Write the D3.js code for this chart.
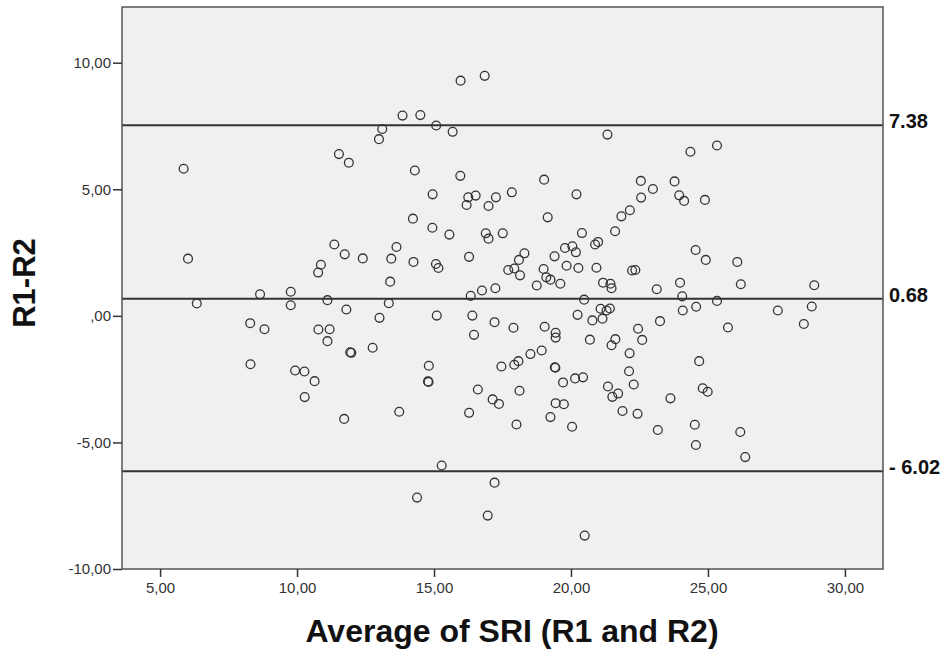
<!DOCTYPE html>
<html>
<head>
<meta charset="utf-8">
<script src="https://cdn.jsdelivr.net/npm/d3@7"></script>
<style>
  body { margin: 0; background: #fff; }
  svg text { font-family: Arial, "Liberation Sans", sans-serif; }
</style>
</head>
<body>
<svg id="chart" width="947" height="651"></svg>
<script>
// average of the two ratings (x) and their difference (y)
const avgValues = [
  5.86, 11.53, 11.89, 15.97, 16.85, 13.85, 14.50, 15.08, 15.68, 13.11,
  12.99, 14.30, 15.96, 19.02, 14.95, 16.25, 16.52, 16.19, 16.99, 17.26,
  17.84, 20.20, 14.23, 19.15, 21.33, 24.36, 25.33, 22.55, 22.99, 22.56,
  23.78, 23.95, 24.13, 24.89, 22.15, 21.84, 6.02, 6.34, 11.36, 11.74,
  12.40, 10.87, 10.77, 8.65, 9.77, 9.77, 11.11, 11.80, 8.29, 8.81,
  10.78, 11.19, 11.11, 11.94, 11.98, 8.30, 9.93, 10.27, 10.64, 10.28,
  11.72, 14.94, 15.56, 16.89, 16.99, 17.51, 20.40, 13.63, 13.44, 14.25,
  15.07, 15.16, 16.28, 18.30, 18.10, 17.71, 17.93, 18.14, 19.40, 19.78,
  20.05, 20.18, 20.88, 20.99, 19.84, 20.27, 20.93, 19.00, 19.10, 19.25,
  19.61, 18.75, 13.40, 17.24, 16.75, 16.34, 21.17, 20.48, 13.35, 13.01,
  15.10, 16.40, 17.21, 17.90, 16.46, 19.04, 19.44, 19.44, 20.24, 20.78,
  20.69, 12.76, 14.81, 14.78, 14.80, 17.46, 17.93, 18.08, 18.52, 18.93,
  19.41, 19.43, 19.71, 20.15, 20.44, 16.60, 18.12, 17.14, 17.37, 19.44,
  19.74, 13.73, 16.28, 19.25, 18.01, 20.04, 15.28, 17.21, 14.38, 16.96,
  20.50, 21.88, 22.43, 23.17, 24.52, 24.56, 26.18, 26.36, 21.61, 22.23,
  22.35, 24.55, 24.92, 26.07, 21.44, 21.48, 23.13, 23.98, 24.06, 26.20,
  28.88, 25.33, 21.08, 21.30, 21.42, 21.15, 24.08, 24.57, 27.55, 28.79,
  28.50, 23.25, 25.73, 22.45, 22.60, 21.62, 21.48, 22.14, 24.68, 22.12,
  22.29, 21.35, 21.72, 21.51, 24.81, 24.99, 23.63
];
const diffValues = [
  5.81, 6.39, 6.05, 9.29, 9.48, 7.91, 7.93, 7.52, 7.27, 7.38,
  6.98, 5.74, 5.53, 5.38, 4.80, 4.68, 4.75, 4.38, 4.34, 4.68,
  4.88, 4.80, 3.84, 3.89, 7.16, 6.48, 6.73, 5.33, 5.01, 4.67,
  5.31, 4.76, 4.54, 4.58, 4.17, 3.93, 2.26, 0.49, 2.82, 2.43,
  2.27, 2.02, 1.71, 0.85, 0.95, 0.42, 0.62, 0.25, -0.29, -0.53,
  -0.54, -0.53, -1.00, -1.44, -1.46, -1.91, -2.16, -2.20, -2.58, -3.21,
  -4.07, 3.48, 3.21, 3.26, 3.05, 3.26, 3.27, 2.72, 2.26, 2.13,
  2.05, 1.89, 2.33, 2.47, 2.21, 1.81, 1.87, 1.60, 2.35, 2.68,
  2.75, 2.51, 2.82, 2.92, 1.98, 1.89, 1.90, 1.85, 1.52, 1.43,
  1.27, 1.20, 1.35, 1.09, 1.00, 0.79, 1.31, 0.64, 0.50, -0.08,
  0.01, 0.01, -0.25, -0.47, -0.75, -0.43, -0.67, -0.86, 0.04, -0.18,
  -0.94, -1.26, -1.97, -2.59, -2.61, -2.00, -1.93, -1.79, -1.51, -1.37,
  -2.03, -2.05, -2.63, -2.47, -2.43, -2.91, -2.96, -3.30, -3.48, -3.45,
  -3.49, -3.79, -3.83, -4.00, -4.29, -4.38, -5.91, -6.59, -7.18, -7.89,
  -8.68, -3.76, -3.87, -4.51, -4.30, -5.10, -4.59, -5.58, 3.34, 1.79,
  1.81, 2.60, 2.21, 2.13, 1.27, 1.09, 1.05, 1.31, 0.77, 1.25,
  1.21, 0.59, 0.28, 0.21, 0.29, -0.11, 0.21, 0.36, 0.21, 0.37,
  -0.32, -0.21, -0.46, -0.51, -0.95, -0.92, -1.16, -1.48, -1.79, -2.19,
  -2.71, -2.79, -3.07, -3.20, -2.86, -3.00, -3.26
];

// reference lines (drawn position) and the labels printed beside them
const refLineValues = [7.53, 0.68, -6.14];
const refLineLabels = ["7.38", "0.68", "- 6.02"];

const xTicks = [5, 10, 15, 20, 25, 30];
const yTicks = [-10, -5, 0, 5, 10];

// SPSS style: comma decimals, no leading zero, plain hyphen
const fmt = d => d3.format(".2f")(d).replace("−", "-").replace(".", ",").replace(/^0,/, ",");

const margin = {top: 7, right: 64, bottom: 82, left: 122};
const width = 947 - margin.left - margin.right,
      height = 651 - margin.top - margin.bottom;

const svg = d3.select("#chart");
const g = svg.append("g")
  .attr("transform", `translate(${margin.left},${margin.top})`);

const x = d3.scaleLinear().domain([3.61, 31.39]).range([0, width]);
const y = d3.scaleLinear().domain([-10, 12.2]).range([height, 0]);

g.append("rect")
  .attr("width", width)
  .attr("height", height)
  .attr("fill", "#f0f0f0");

// mean and limits of agreement
g.selectAll(".ref-line")
  .data(refLineValues)
  .join("line")
    .attr("class", "ref-line")
    .attr("x1", 0)
    .attr("x2", width)
    .attr("y1", d => y(d))
    .attr("y2", d => y(d))
    .attr("stroke", "#333")
    .attr("stroke-width", 2);

g.selectAll(".ref-label")
  .data(refLineValues)
  .join("text")
    .attr("class", "ref-label")
    .attr("x", width + 6)
    .attr("y", d => y(d) + 3)
    .attr("font-size", 20)
    .attr("font-weight", "bold")
    .attr("fill", "#111")
    .text((d, i) => refLineLabels[i]);

const points = avgValues.map((a, i) => ({avg: a, diff: diffValues[i]}));

g.selectAll(".pt")
  .data(points)
  .join("circle")
    .attr("class", "pt")
    .attr("cx", d => x(d.avg))
    .attr("cy", d => y(d.diff))
    .attr("r", 4.4)
    .attr("fill", "none")
    .attr("stroke", "#333")
    .attr("stroke-width", 1.3);

// frame
g.append("rect")
  .attr("width", width)
  .attr("height", height)
  .attr("fill", "none")
  .attr("stroke", "#555")
  .attr("stroke-width", 1.5);

const xAxis = g.append("g")
  .attr("transform", `translate(0,${height})`)
  .call(d3.axisBottom(x).tickValues(xTicks).tickFormat(fmt).tickSize(8).tickPadding(5));

const yAxis = g.append("g")
  .call(d3.axisLeft(y).tickValues(yTicks).tickFormat(fmt).tickSize(9).tickPadding(2));

[xAxis, yAxis].forEach(ax => {
  ax.select(".domain").remove();
  ax.selectAll(".tick line").attr("stroke", "#333").attr("stroke-width", 1.5);
  ax.selectAll(".tick text")
    .attr("font-size", 15)
    .attr("fill", "#333")
    .style("font-family", "Arial, 'Liberation Sans', sans-serif");
});

svg.append("text")
  .attr("x", 512)
  .attr("y", 642)
  .attr("text-anchor", "middle")
  .attr("font-size", 32)
  .attr("font-weight", "bold")
  .attr("fill", "#111")
  .text("Average of SRI (R1 and R2)");

svg.append("text")
  .attr("transform", "translate(35,283) rotate(-90)")
  .attr("text-anchor", "middle")
  .attr("font-size", 31)
  .attr("font-weight", "bold")
  .attr("fill", "#111")
  .text("R1-R2");
</script>
</body>
</html>
